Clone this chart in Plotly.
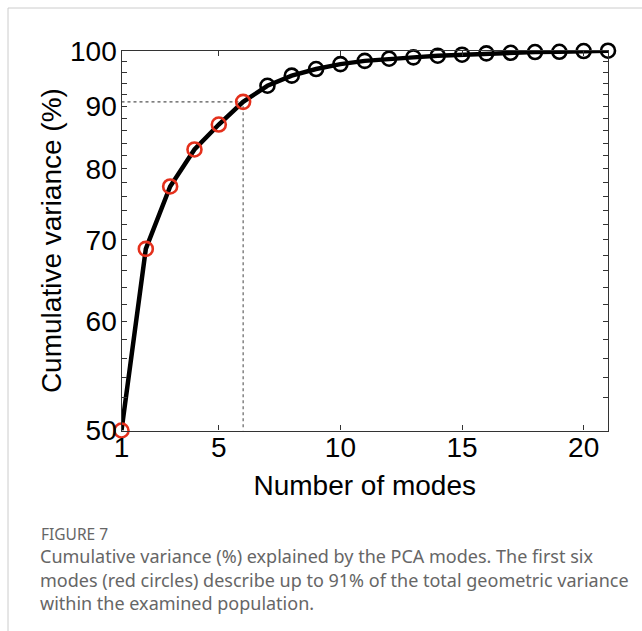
import math
import plotly.graph_objects as go

# Cumulative explained variance (%) for each PCA mode
modes = list(range(1, 22))
cum_variance = [48.84, 68.8, 77.4, 83.0, 87.0, 90.8, 93.6, 95.4, 96.6, 97.5,
                98.1, 98.5, 98.75, 99.06, 99.25, 99.5, 99.6, 99.75, 99.8, 99.94, 100.0]
n_highlight = 6          # first six modes shown in red
threshold_value = 90.8   # cumulative variance reached by mode 6

x_tickvals = [1, 5, 10, 15, 20]
y_tickvals = [48.84, 60, 70, 80, 90, 100]
y_ticktext = ["50", "60", "70", "80", "90", "100"]
y_minor = [v for v in range(50, 100, 2) if v % 10 != 0]

RED = "#e4301c"
marker_colors = [RED if i < n_highlight else "#000000" for i in range(len(modes))]

W, H = 642, 631
px_x = lambda p: p / W
px_y = lambda p: 1 - p / H

fig = go.Figure()

# dotted guide lines at mode 6
fig.add_trace(go.Scatter(
    x=[modes[0], modes[n_highlight - 1], modes[n_highlight - 1]],
    y=[threshold_value, threshold_value, cum_variance[0]],
    mode="lines", line=dict(color="#555555", width=1.1, dash="dot"),
    hoverinfo="skip", showlegend=False))

fig.add_trace(go.Scatter(
    x=modes, y=cum_variance, mode="lines+markers",
    line=dict(color="#000000", width=4.5),
    marker=dict(symbol="circle-open", size=14, color=marker_colors,
                line=dict(width=2.6)),
    cliponaxis=False, showlegend=False))

axis_font = dict(family="Liberation Sans, Arial, sans-serif", size=28, color="#000000")
title_font = dict(family="Liberation Sans, Arial, sans-serif", size=28, color="#000000")

fig.update_xaxes(
    domain=[px_x(121.5), px_x(608)], range=[1, 21], automargin=False,
    tickmode="array", tickvals=x_tickvals,
    ticks="inside", ticklen=5, tickwidth=1, tickcolor="#333333",
    showline=True, linecolor="#333333", linewidth=1.3, mirror="allticks",
    showgrid=False, zeroline=False, tickfont=axis_font, ticklabelstandoff=-8,
    title=dict(text="Number of modes", font=title_font, standoff=13))

fig.update_yaxes(
    type="log", domain=[px_y(430.5), px_y(50.7)], automargin=False,
    range=[math.log10(cum_variance[0]), 2.0],
    tickmode="array", tickvals=y_tickvals, ticktext=y_ticktext,
    ticks="inside", ticklen=5, tickwidth=1, tickcolor="#333333",
    minor=dict(tickmode="array", tickvals=y_minor, ticks="inside",
               ticklen=5, tickwidth=1, tickcolor="#333333", showgrid=False),
    showline=True, linecolor="#333333", linewidth=1.3, mirror="allticks",
    showgrid=False, zeroline=False, tickfont=axis_font, ticklabelstandoff=-2,
    title=dict(text="Cumulative variance (%)", font=title_font, standoff=0))

cap_font = dict(family="Noto Sans, Open Sans, sans-serif", size=18, color="#666666")
caption_lines = [
    "Cumulative variance (%) explained by the PCA modes. The first six",
    "modes (red circles) describe up to 91% of the total geometric variance",
    "within the examined population.",
]
annotations = [dict(text="FIGURE 7", x=px_x(39), y=px_y(534), xref="paper", yref="paper",
                    xanchor="left", yanchor="middle", showarrow=False,
                    font=dict(family="Noto Sans, Open Sans, sans-serif", size=15.5,
                              color="#666666"))]
for i, line in enumerate(caption_lines):
    annotations.append(dict(text=line, x=px_x(38), y=px_y(556 + 23.5 * i),
                            xref="paper", yref="paper", xanchor="left",
                            yanchor="middle", showarrow=False, font=cap_font))

# light frame on the left and top edges
shapes = [
    dict(type="line", xref="paper", yref="paper", x0=px_x(8), x1=px_x(8),
         y0=0, y1=px_y(8), line=dict(color="#cccccc", width=1)),
    dict(type="line", xref="paper", yref="paper", x0=px_x(8), x1=1,
         y0=px_y(8), y1=px_y(8), line=dict(color="#cccccc", width=1)),
]

fig.update_layout(
    width=W, height=H, margin=dict(l=0, r=0, t=0, b=0),
    paper_bgcolor="#ffffff", plot_bgcolor="#ffffff",
    annotations=annotations, shapes=shapes, showlegend=False)

fig.write_html("out.html")
